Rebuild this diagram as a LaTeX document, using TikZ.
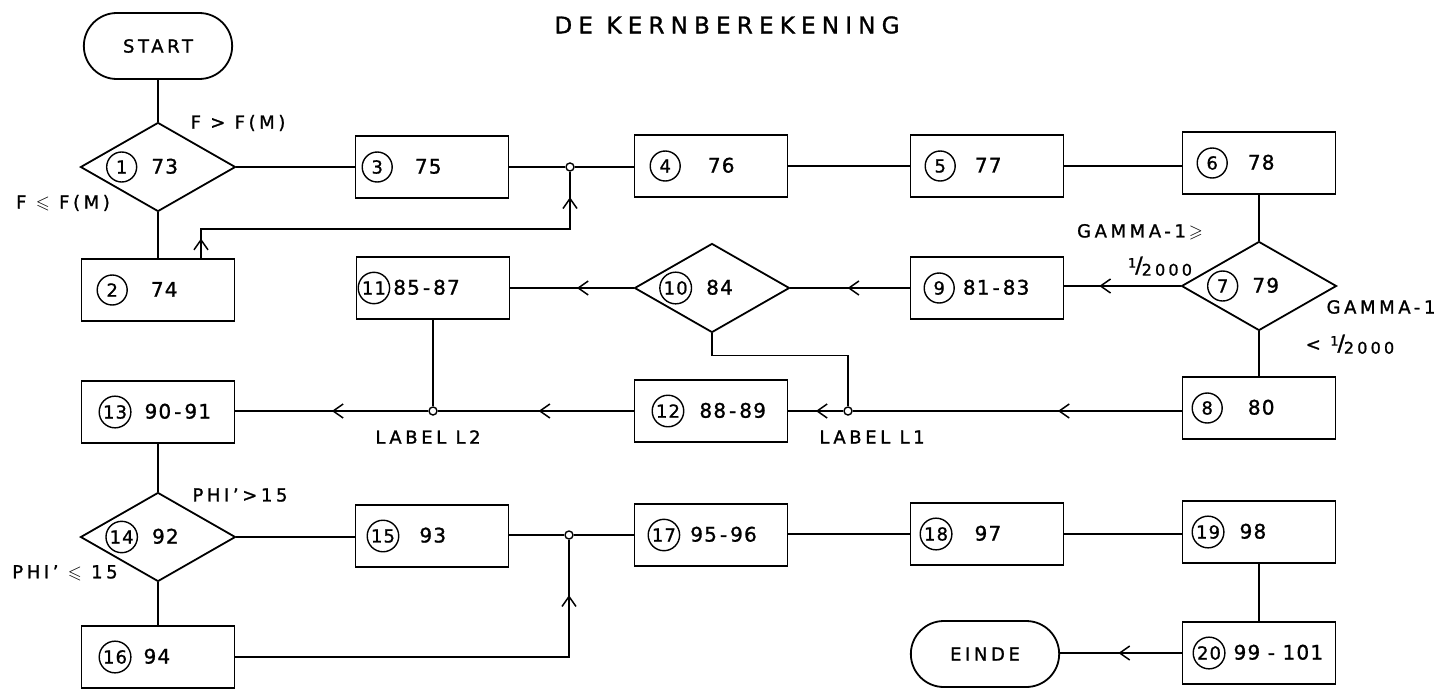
\documentclass[tikz,border=0pt]{standalone}
\usepackage{fontspec}
\usepackage{amssymb}
\setmainfont{DejaVu Sans}
\usetikzlibrary{shapes.geometric,shapes.misc,arrows.meta,decorations.markings,calc}

\newcommand{\bxfont}{\fontsize{20}{22}\selectfont\addfontfeatures{LetterSpace=6,FakeBold=1.2}}
\newcommand{\lblfont}{\fontsize{18}{20}\selectfont\addfontfeatures{LetterSpace=20,FakeBold=1.2}}
\newcommand{\hy}{\kern3pt-\kern3pt}
\newcommand{\cn}[1]{\tikz[baseline=(cnode.base)]\node[draw,circle,line width=1.4pt,inner sep=1.5pt,minimum size=30pt,font=\fontsize{18}{18}\selectfont\addfontfeatures{FakeBold=1}](cnode){#1};}
\newcommand{\bc}[4]{\makebox[153pt][l]{\hspace*{#1pt}\cn{#2}\hspace{#3pt}#4}}
\newcommand{\dc}[2]{\hspace*{-32pt}\cn{#1}\hspace{14pt}#2}
\newcommand{\frc}{\raisebox{5pt}{\fontsize{13}{13}\selectfont 1}\kern-1pt\smash{\fontsize{22}{22}\selectfont /}\kern-1pt\raisebox{-3pt}{\fontsize{16}{16}\selectfont 2000}}

\tikzset{
  box/.style={draw, rectangle, line width=1.8pt, minimum width=153pt, minimum height=62pt, inner xsep=0pt, inner ysep=0pt, font=\bxfont},
  dia/.style={draw, diamond, aspect=1.75, inner sep=0pt, minimum width=155pt, minimum height=89pt, line width=1.8pt, font=\bxfont},
  term/.style={draw, rounded rectangle, minimum width=155pt, minimum height=66pt, line width=1.8pt, font=\lblfont},
  junc/.style={draw, circle, fill=white, inner sep=0pt, minimum size=8pt, line width=1.4pt},
  conn/.style={line width=1.5pt},
  lbl/.style={inner sep=0pt, font=\lblfont},
  ttl/.style={inner sep=0pt, font=\fontsize{23}{25}\selectfont\addfontfeatures{LetterSpace=27,FakeBold=1.2}},
  arrowat/.style={postaction={decorate,decoration={markings,mark=at position #1 with {\arrow{Straight Barb[length=10pt,width=14pt]}}}}}
}

\begin{document}
\begin{tikzpicture}[x=1pt,y=-1pt]
\useasboundingbox (0,0) rectangle (1447,688);

% title
\node[ttl] (title) at (727,25) {DE KERNBEREKENING};

% row 1
\node[term] (start) at (158,46) {START};
\node[dia] (d1) at (158,167) {\dc{1}{73}};
\node[box] (b3) at (432,167) {\bc{6}{3}{22}{75}};
\node[junc] (j1) at (570,167) {};
\node[box] (b4) at (711,166) {\bc{15}{4}{27}{76}};
\node[box] (b5) at (987,166) {\bc{14}{5}{19}{77}};
\node[box] (b6) at (1259,163) {\bc{14}{6}{20}{78}};

% row 2
\node[box] (b2) at (158,290) {\bc{15}{2}{23}{74}};
\node[box] (b11) at (433,288) {\bc{1}{11}{3}{85\hy87}};
\node[dia] (d10) at (712,288) {\dc{10}{84}};
\node[box] (b9) at (987,288) {\bc{13}{9}{8}{81\hy83}};
\node[dia] (d7) at (1259,286) {\dc{7}{79}};

% row 3
\node[box] (b13) at (158,412) {\bc{17}{13}{13}{90\hy91}};
\node[junc] (j2) at (433,411) {};
\node[box] (b12) at (711,411) {\bc{17}{12}{15}{88\hy89}};
\node[junc] (j3) at (848,411) {};
\node[box] (b8) at (1259,408) {\bc{9}{8}{25}{80}};

% row 4
\node[dia] (d14) at (158,537) {\dc{14}{92}};
\node[box] (b15) at (432,536) {\bc{11}{15}{20}{93}};
\node[junc] (j4) at (569,535) {};
\node[box] (b17) at (711,535) {\bc{13}{17}{10}{95\hy96}};
\node[box] (b18) at (987,534) {\bc{9}{18}{22}{97}};
\node[box] (b19) at (1259,532) {\bc{9}{19}{15}{98}};

% row 5
\node[box] (b16) at (158,657) {\bc{17}{16}{12}{94}};
\node[term] (einde) at (985,654) {EINDE};
\node[box] (b20) at (1259,653) {\bc{10}{20}{8}{99 - 101}};

% connectors
\draw[conn] (start.south) -- (d1.north);
\draw[conn] (d1.south) -- (b2.north);
\draw[conn] (d1.east) -- (b3.west |- d1.east);
\draw[conn] (b3.east |- j1) -- (j1);
\draw[conn] (j1) -- (b4.west |- j1);
\draw[conn] (b4.east) -- (b5.west);
\draw[conn] (b5.east) -- (b6.west |- b5.east);
\draw[conn] (b6.south) -- (d7.north);
\draw[conn, arrowat=0.70] (d7.west) -- (b9.east |- d7.west);
\draw[conn, arrowat=0.52] (b9.west) -- (d10.east);
\draw[conn, arrowat=0.46] (d10.west) -- (b11.east);
\draw[conn] (d10.south) -- ++(0,22) -| (j3);
\draw[conn] (d7.south) -- (b8.north);
\draw[conn, arrowat=0.376] (b8.west |- j3) -- (j3);
\draw[conn, arrowat=0.5] (j3) -- (b12.east);
\draw[conn, arrowat=0.485] (b12.west) -- (j2);
\draw[conn] (b11.south) -- (j2);
\draw[conn, arrowat=0.5] (j2) -- (b13.east |- j2);
\draw[conn] (b13.south) -- (d14.north);
\draw[conn] (d14.south) -- (b16.north);
\draw[conn] (d14.east) -- (b15.west |- d14.east);
\draw[conn] (b15.east |- j4) -- (j4);
\draw[conn] (j4) -- (b17.west);
\draw[conn] (b17.east |- b18.west) -- (b18.west);
\draw[conn] (b18.east) -- (b19.west |- b18.east);
\draw[conn] (b19.south) -- (b20.north);
\draw[conn, arrowat=0.52] (b20.west) -- (einde.east |- b20.west);
\draw[conn, arrowat=0.877] (b16.east) -| (j4);
\draw[conn, arrowat=0.043, arrowat=0.944] ($(b2.north)+(43,0)$) -- ++(0,-29) -| (j1);

% labels
\node[lbl] (lf1) at (238,123) {F > F(M)};
\node[lbl] (lf2) at (63,203) {F $\leqslant$ F(M)};
\node[lbl] (lg1) at (1140,232) {GAMMA-1\,$\geqslant$};
\node[lbl] (lg2) at (1160,267) {\frc};
\node[lbl] (lg3) at (1381,307) {GAMMA-1};
\node[lbl] (lg4) at (1350,345) {< \frc};
\node[lbl] (ll2) at (428,437) {LABEL L2};
\node[lbl] (ll1) at (872,437) {LABEL L1};
\node[lbl] (lp1) at (240,495) {PHI'>15};
\node[lbl] (lp2) at (65,573) {PHI' $\leqslant$ 15};
\end{tikzpicture}
\end{document}
